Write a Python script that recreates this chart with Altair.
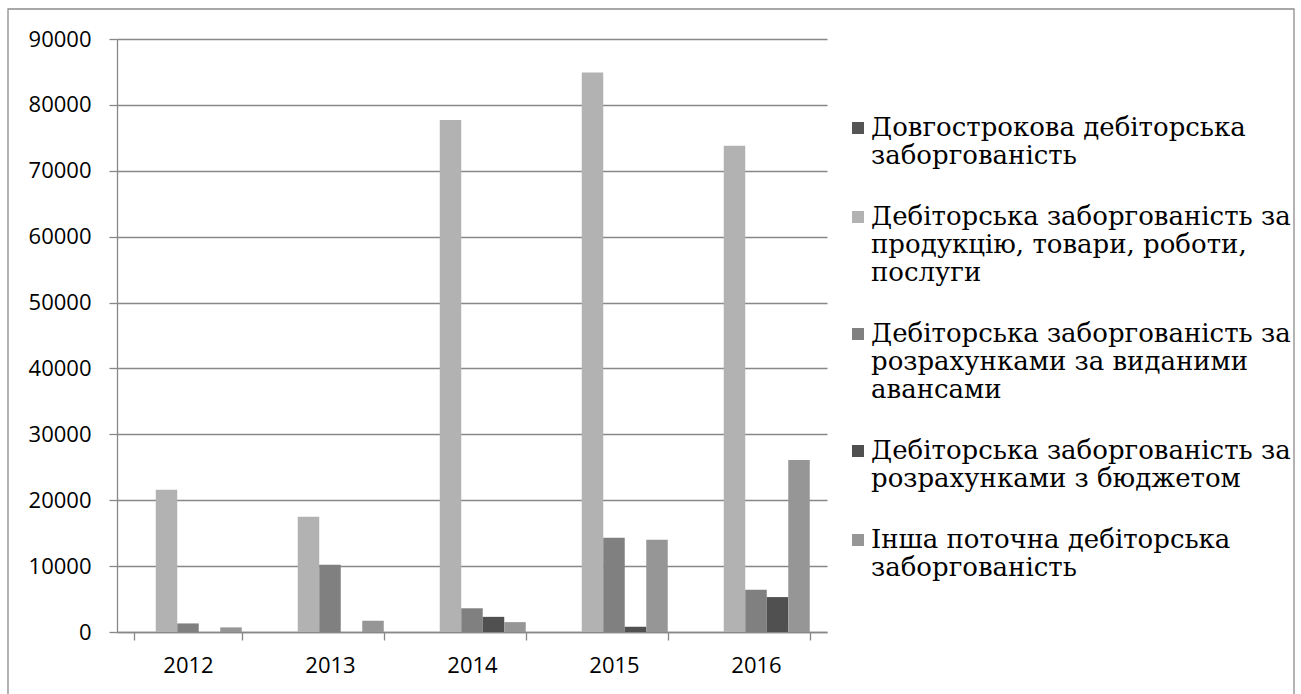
import altair as alt
import pandas as pd

years = ["2012", "2013", "2014", "2015", "2016"]

# Series names, wrapped onto the lines used in the legend
series_lines = [
    ["Довгострокова дебіторська", "заборгованість"],
    ["Дебіторська заборгованість за", "продукцію, товари, роботи,", "послуги"],
    ["Дебіторська заборгованість за", "розрахунками за виданими", "авансами"],
    ["Дебіторська заборгованість за", "розрахунками з бюджетом"],
    ["Інша поточна дебіторська", "заборгованість"],
]
series = ["\n".join(lines) for lines in series_lines]

long_term = [0, 0, 0, 0, 0]
goods_services = [21600, 17500, 77700, 84900, 73800]
advances = [1300, 10200, 3600, 14300, 6400]
budget = [0, 0, 2300, 800, 5300]
other_current = [700, 1700, 1500, 14000, 26100]

colors = ["#555555", "#b2b2b2", "#808080", "#505050", "#969696"]

values = [long_term, goods_services, advances, budget, other_current]
rows = []
for name, vals in zip(series, values):
    for year, v in zip(years, vals):
        rows.append({"year": year, "series": name, "value": v})
df = pd.DataFrame(rows)

GRID = "#888888"
AXIS_FONT = "Open Sans"
LEGEND_FONT = "DejaVu Serif"

bars = alt.Chart(df).mark_bar().encode(
    x=alt.X(
        "year:N",
        sort=years,
        title=None,
        scale=alt.Scale(paddingInner=0.243, paddingOuter=0.1215),
        axis=alt.Axis(
            labelAngle=0,
            tickBand="extent",
            labelFont=AXIS_FONT,
            labelFontSize=22,
            labelColor="#000000",
            labelPadding=15,
            tickSize=8,
            tickColor=GRID,
            tickWidth=1.3,
            domainColor=GRID,
            domainWidth=1.3,
            grid=False,
        ),
    ),
    xOffset=alt.XOffset(
        "series:N", sort=series, scale=alt.Scale(paddingInner=0, paddingOuter=0)
    ),
    y=alt.Y(
        "value:Q",
        title=None,
        scale=alt.Scale(domain=[0, 90000], nice=False),
        axis=alt.Axis(
            values=list(range(0, 90001, 10000)),
            format="d",
            labelFont=AXIS_FONT,
            labelFontSize=22,
            labelColor="#000000",
            labelPadding=18,
            tickSize=8,
            tickColor=GRID,
            tickWidth=1.3,
            domainColor=GRID,
            domainWidth=1.3,
            gridColor=GRID,
            gridWidth=1.3,
        ),
    ),
    color=alt.Color(
        "series:N",
        sort=series,
        scale=alt.Scale(domain=series, range=colors),
        legend=alt.Legend(
            title=None,
            orient="none",
            legendX=728,
            legendY=76,
            direction="vertical",
            symbolType="square",
            symbolSize=144,
            symbolStrokeWidth=0,
            labelFont=LEGEND_FONT,
            labelFontSize=26,
            labelColor="#000000",
            labelLimit=600,
            labelOffset=0,
            rowPadding=35,
            labelExpr="split(datum.label, '\\n')",
        ),
    ),
)

# Thin border around the whole figure
frame = alt.Chart(pd.DataFrame({"k": [0]})).mark_rect(
    fillOpacity=0, stroke="#8c8c8c", strokeWidth=1.3
).encode(
    x=alt.value(-109),
    x2=alt.value(1177),
    y=alt.value(-30),
    y2=alt.value(700),
)

chart = (
    alt.layer(bars, frame)
    .properties(
        width=710,
        height=593,
        autosize=alt.AutoSizeParams(type="none"),
        padding={"left": 117, "top": 39, "right": 474, "bottom": 62},
        background="#ffffff",
    )
    .configure_view(stroke=None)
    .configure_legend(labelFont=LEGEND_FONT)
)

chart.save("out.html", embed_options={"renderer": "svg", "actions": False})
